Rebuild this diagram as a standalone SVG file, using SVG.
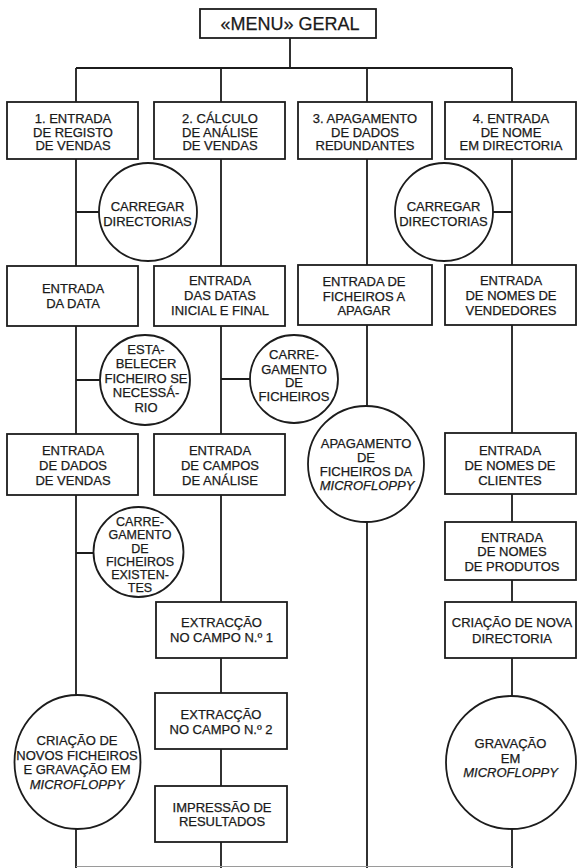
<svg xmlns="http://www.w3.org/2000/svg" width="577" height="868" viewBox="0 0 577 868">
<style>
.n{fill:#fff;stroke:#1c1c1c;stroke-width:1.8}
.c{fill:none;stroke:#1c1c1c;stroke-width:1.8}
text{font-family:"Liberation Sans",Arial,sans-serif;font-size:13px;fill:#1a1a1a;stroke:#1a1a1a;stroke-width:0.25;text-anchor:middle}
.i{font-style:italic}
.s{font-size:12.5px}
</style>
<rect width="577" height="868" fill="#fff"/>
<g id="connectors">
<path class="c" d="M290 38V68M76 68H512M76 68V102M221 68V102M367 68V102M512 68V102"/>
<path class="c" d="M76 159V266M76 326V434M76 495V695M76 829V868"/>
<path class="c" d="M221 159V266M221 326V434M221 495V602M221 658V693M221 749V786M221 842V868"/>
<path class="c" d="M367 159V266M367 325V406M367 522V868"/>
<path class="c" d="M512 159V265M512 325V433M512 494V522M512 580V602M512 658V696M512 829V868"/>
<path class="c" d="M76 212H99M76 380H100M221 379H250M76 553H94M493 212H512"/>
<path d="M76 866.5H512" fill="none" stroke="#9a9a9a" stroke-width="1.2"/>
</g>
<g id="menu"><rect class="n" x="200" y="9" width="176" height="29"/><text x="290" y="30" style="font-size:18px">«MENU» GERAL</text></g>
<g id="n1"><rect class="n" x="7" y="102" width="131" height="57"/><text x="73" y="123">1. ENTRADA</text><text x="73" y="136.5">DE REGISTO</text><text x="73" y="150">DE VENDAS</text></g>
<g id="n2"><rect class="n" x="154" y="102" width="131" height="57"/><text x="220" y="123">2. CÁLCULO</text><text x="220" y="136.5">DE ANÁLISE</text><text x="220" y="150">DE VENDAS</text></g>
<g id="n3"><rect class="n" x="298" y="102" width="134" height="57"/><text x="365" y="123">3. APAGAMENTO</text><text x="365" y="136.5">DE DADOS</text><text x="365" y="150">REDUNDANTES</text></g>
<g id="n4"><rect class="n" x="445" y="102" width="131" height="57"/><text x="511" y="123">4. ENTRADA</text><text x="511" y="136.5">DE NOME</text><text x="511" y="150">EM DIRECTORIA</text></g>
<g id="c1"><circle class="n" cx="148" cy="212" r="49"/><text x="147.5" y="210.5">CARREGAR</text><text x="147.5" y="225.5">DIRECTORIAS</text></g>
<g id="c2"><circle class="n" cx="444" cy="212" r="49"/><text x="443.5" y="210.5">CARREGAR</text><text x="443.5" y="225.5">DIRECTORIAS</text></g>
<g id="b1"><rect class="n" x="7" y="266" width="131" height="60"/><text x="73" y="293">ENTRADA</text><text x="73" y="308">DA DATA</text></g>
<g id="b2"><rect class="n" x="154" y="266" width="131" height="60"/><text x="220" y="285">ENTRADA</text><text x="220" y="300">DAS DATAS</text><text x="220" y="315">INICIAL E FINAL</text></g>
<g id="b3"><rect class="n" x="298" y="265" width="134" height="60"/><text x="364" y="286">ENTRADA DE</text><text x="364" y="301">FICHEIROS A</text><text x="364" y="315">APAGAR</text></g>
<g id="b4"><rect class="n" x="445" y="265" width="131" height="60"/><text x="511" y="285">ENTRADA</text><text x="511" y="300">DE NOMES DE</text><text x="511" y="315">VENDEDORES</text></g>
<g id="c3"><circle class="n" cx="145" cy="380" r="45"/><text x="146" y="354">ESTA-</text><text x="146" y="368">BELECER</text><text x="146" y="383">FICHEIRO SE</text><text x="146" y="397">NECESSÁ-</text><text x="146" y="412">RIO</text></g>
<g id="c4"><circle class="n" cx="294" cy="379" r="44"/><text x="294" y="359">CARRE-</text><text x="294" y="373.5">GAMENTO</text><text x="294" y="387">DE</text><text x="294" y="401">FICHEIROS</text></g>
<g id="d1"><rect class="n" x="7" y="434" width="131" height="61"/><text x="73" y="455">ENTRADA</text><text x="73" y="470">DE DADOS</text><text x="73" y="485">DE VENDAS</text></g>
<g id="d2"><rect class="n" x="154" y="434" width="131" height="61"/><text x="220" y="455">ENTRADA</text><text x="220" y="470">DE CAMPOS</text><text x="220" y="485">DE ANÁLISE</text></g>
<g id="c5"><circle class="n" cx="366" cy="464" r="58"/><text x="366" y="448">APAGAMENTO</text><text x="366" y="462">DE</text><text x="366" y="476">FICHEIROS DA</text><text x="367" y="490" class="i">MICROFLOPPY</text></g>
<g id="d4"><rect class="n" x="445" y="433" width="131" height="61"/><text x="510" y="455">ENTRADA</text><text x="510" y="470">DE NOMES DE</text><text x="510" y="485">CLIENTES</text></g>
<g id="c6"><circle class="n" cx="138.5" cy="552" r="45"/><text class="s" x="140" y="526">CARRE-</text><text class="s" x="140" y="539">GAMENTO</text><text class="s" x="140" y="552.5">DE</text><text class="s" x="140" y="565.5">FICHEIROS</text><text class="s" x="140" y="578.5">EXISTEN-</text><text class="s" x="140" y="591.5">TES</text></g>
<g id="e4"><rect class="n" x="445" y="522" width="131" height="58"/><text x="512" y="541.5">ENTRADA</text><text x="512" y="556">DE NOMES</text><text x="512" y="570.5">DE PRODUTOS</text></g>
<g id="f2"><rect class="n" x="156" y="602" width="131" height="56"/><text x="221.5" y="627">EXTRACÇÃO</text><text x="221.5" y="642">NO CAMPO N.º 1</text></g>
<g id="f4"><rect class="n" x="445" y="602" width="131" height="56"/><text x="512" y="627">CRIAÇÃO DE NOVA</text><text x="512" y="642.5">DIRECTORIA</text></g>
<g id="g2"><rect class="n" x="155" y="693" width="132" height="56"/><text x="221" y="719">EXTRACÇÃO</text><text x="221" y="734">NO CAMPO N.º 2</text></g>
<g id="c7"><ellipse class="n" cx="77.5" cy="762" rx="63" ry="67"/><text x="77" y="745">CRIAÇÃO DE</text><text x="77" y="759.5">NOVOS FICHEIROS</text><text x="77" y="774">E GRAVAÇÃO EM</text><text x="77" y="788.5" class="i">MICROFLOPPY</text></g>
<g id="c8"><ellipse class="n" cx="511" cy="762.5" rx="65" ry="66.5"/><text x="510.5" y="748">GRAVAÇÃO</text><text x="510.5" y="763">EM</text><text x="510.5" y="777" class="i">MICROFLOPPY</text></g>
<g id="h2"><rect class="n" x="155" y="786" width="132" height="56"/><text x="222" y="811.5">IMPRESSÃO DE</text><text x="222" y="826">RESULTADOS</text></g>
</svg>
